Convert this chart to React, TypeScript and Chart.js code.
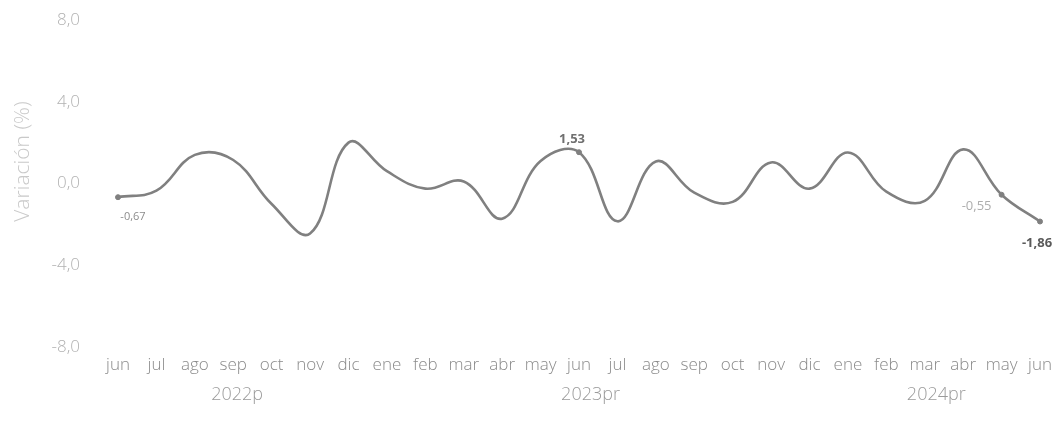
import { useEffect, useRef } from "react";
import { Chart, registerables } from "chart.js";

Chart.register(...registerables);

const months = [
  "jun", "jul", "ago", "sep", "oct", "nov", "dic", "ene", "feb", "mar", "abr", "may", "jun",
  "jul", "ago", "sep", "oct", "nov", "dic", "ene", "feb", "mar", "abr", "may", "jun",
];

const variation = [
  -0.67, -0.35, 1.4, 1.15, -1.0, -2.45, 2.0, 0.6, -0.25, 0.1, -1.72, 1.1, 1.53,
  -1.85, 1.08, -0.45, -0.9, 1.03, -0.25, 1.52, -0.4, -0.85, 1.67, -0.55, -1.86,
];

const labeledIndices = [0, 12, 23, 24];

const yearLabels = ["2022p", "2023pr", "2024pr"];
const yearCenterIndex = [3.1, 12.3, 21.3];

const yMin = -8;
const yMax = 8;
const yStep = 4;

const yTitle = "Variación (%)";

const FONT = "'Open Sans', 'Noto Sans', sans-serif";

const fmt = (v: number, d: number) => v.toFixed(d).replace(".", ",");

// label styling (per labelled point, same order as labeledIndices)
const labelStyles = [
  { dx: 15, dy: 20, size: 11, weight: "normal", color: "#8c8c8c" },
  { dx: -7, dy: -13, size: 13, weight: "bold", color: "#707070" },
  { dx: -25, dy: 12, size: 13, weight: "normal", color: "#adadad" },
  { dx: -3, dy: 22, size: 13, weight: "bold", color: "#5a5a5a" },
];

const overlayPlugin = {
  id: "overlay",
  afterDatasetsDraw(chart: any) {
    const ctx = chart.ctx;
    const meta = chart.getDatasetMeta(0);
    ctx.save();
    ctx.textAlign = "center";
    ctx.textBaseline = "middle";
    labeledIndices.forEach((idx, k) => {
      const el = meta.data[idx];
      const st = labelStyles[k];
      ctx.font = `${st.weight} ${st.size}px ${FONT}`;
      ctx.fillStyle = st.color;
      ctx.fillText(fmt(variation[idx], 2), el.x + st.dx, el.y + st.dy);
    });
    ctx.restore();
  },
  afterDraw(chart: any) {
    const ctx = chart.ctx;
    const xs = chart.scales.x;
    const area = chart.chartArea;
    ctx.save();
    // year labels
    ctx.font = `300 18px ${FONT}`;
    ctx.fillStyle = "#9a9a9a";
    ctx.textAlign = "center";
    ctx.textBaseline = "middle";
    yearLabels.forEach((t, i) => {
      ctx.fillText(t, xs.getPixelForValue(yearCenterIndex[i]), area.bottom + 48);
    });
    // y title
    ctx.translate(15, (area.top + area.bottom) / 2 - 22);
    ctx.rotate(-Math.PI / 2);
    ctx.font = `300 21px ${FONT}`;
    ctx.fillStyle = "#c9c9c9";
    ctx.fillText(yTitle, 0, 0);
    ctx.restore();
  },
};

export default function App() {
  const ref = useRef<HTMLCanvasElement | null>(null);

  useEffect(() => {
    if (!ref.current) return;
    const chart = new Chart(ref.current, {
      type: "line",
      data: {
        labels: months,
        datasets: [
          {
            data: variation,
            borderColor: "#808080",
            borderWidth: 2.6,
            tension: 0.4,
            fill: false,
            pointRadius: variation.map((_, i) => (labeledIndices.includes(i) ? 2.5 : 0)),
            pointBackgroundColor: "#808080",
            pointBorderColor: "#808080",
            pointBorderWidth: 1,
          },
        ],
      },
      options: {
        animation: false,
        responsive: true,
        maintainAspectRatio: false,
        layout: { padding: { top: 12, right: 12, bottom: 0, left: 0 } },
        plugins: {
          legend: { display: false },
          tooltip: { enabled: false },
        },
        scales: {
          x: {
            offset: false,
            grid: { display: false, drawTicks: false },
            border: { display: false },
            ticks: {
              autoSkip: false,
              maxRotation: 0,
              minRotation: 0,
              padding: 8,
              color: "#8a8a8a",
              font: { family: FONT, size: 17, weight: 300 },
            },
            afterFit: (s: any) => {
              s.height = 81;
              s.paddingLeft = 0;
              s.paddingRight = 0;
            },
          },
          y: {
            min: yMin,
            max: yMax,
            grid: { display: false, drawTicks: false },
            border: { display: false },
            ticks: {
              stepSize: yStep,
              padding: 38,
              color: "#b2b2b2",
              font: { family: FONT, size: 17, weight: 300 },
              callback: (v: any) => fmt(Number(v), 1),
            },
            afterFit: (s: any) => {
              s.width = 110;
              s.paddingTop = 8;
              s.paddingBottom = 8;
            },
          },
        },
      },
      plugins: [overlayPlugin],
    });
    return () => chart.destroy();
  }, []);

  return (
    <div style={{ position: "relative", width: "1044px", height: "420px" }}>
      <canvas ref={ref} />
    </div>
  );
}
